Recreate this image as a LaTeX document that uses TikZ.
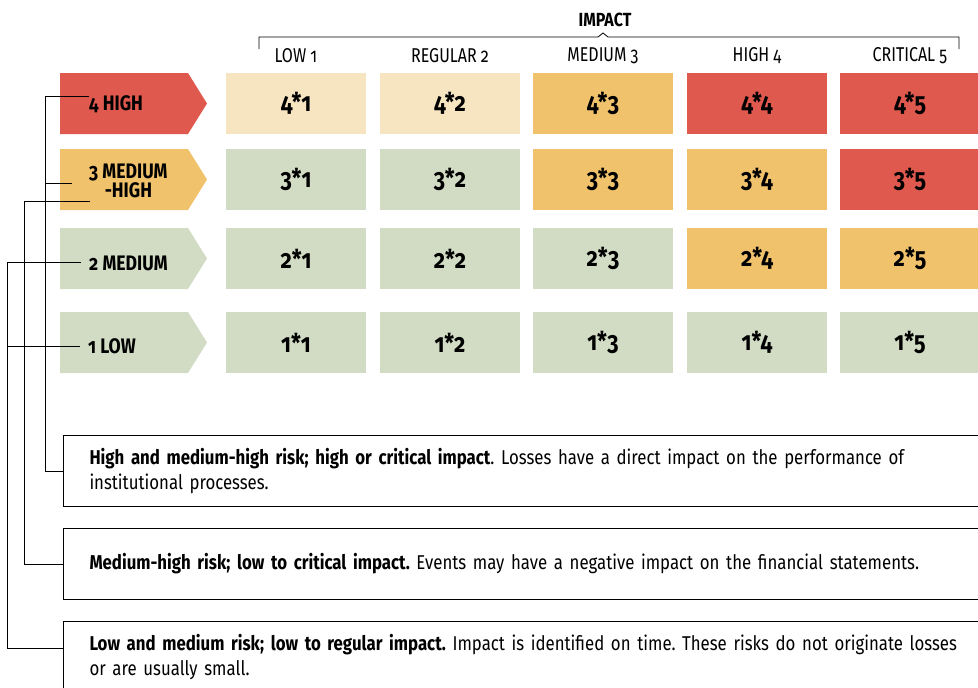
\documentclass[tikz,border=0pt]{standalone}
\usepackage{fontspec}
\setmainfont{Fira Sans}[Numbers=OldStyle, FakeStretch=0.84]
\newfontfamily\headfont{Fira Sans}[Numbers=OldStyle, FakeStretch=0.8]
\usetikzlibrary{calc}
\frenchspacing

\definecolor{riskred}{HTML}{E0594F}
\definecolor{riskorange}{HTML}{F0C26C}
\definecolor{riskbeige}{HTML}{F7E5C1}
\definecolor{riskgreen}{HTML}{D2DCC4}

\tikzset{
  cell/.style={minimum width=140pt, minimum height=61pt, inner sep=0pt,
    font=\fontsize{26}{28}\selectfont\bfseries},
  colhead/.style={inner sep=0pt, font=\headfont\fontsize{20}{22}\selectfont},
  lvl/.style={inner sep=0pt, anchor=west, font=\fontsize{21}{21}\selectfont\bfseries},
  infobox/.style={draw, line width=1pt, anchor=north west, minimum width=940pt,
    minimum height=71pt, inner xsep=26pt, inner ysep=0pt, align=left,
    text width=890pt, font=\fontsize{20}{25}\selectfont},
  link/.style={line width=1pt}
}

\begin{document}
\begin{tikzpicture}[x=1pt, y=-1pt]
  \useasboundingbox (0,0) rectangle (978,688);
  \clip (0,0) rectangle (978,688);

  % impact header
  \node[inner sep=0pt, font=\fontsize{19}{22}\selectfont\bfseries] (impact) at (605,20) {IMPACT};
  \draw[line width=0.8pt] (259,49) -- (259,37) -- (598,37) -- (603,33) -- (608,37) -- (959,37) -- (959,49);
  \node[colhead] (h1) at (296,56) {LOW 1};
  \node[colhead] (h2) at (450,56) {REGULAR 2};
  \node[colhead] (h3) at (603,56) {MEDIUM 3};
  \node[colhead] (h4) at (757,56) {HIGH 4};
  \node[colhead] (h5) at (910,56) {CRITICAL 5};

  % risk levels
  \fill[riskred] (60,73) -- (188,73) -- (207,103.5) -- (188,134) -- (60,134) -- cycle;
  \fill[riskorange] (60,149) -- (188,149) -- (207,179.5) -- (188,210) -- (60,210) -- cycle;
  \fill[riskgreen] (60,228) -- (188,228) -- (207,258.5) -- (188,289) -- (60,289) -- cycle;
  \fill[riskgreen] (60,312) -- (188,312) -- (207,342.5) -- (188,373) -- (60,373) -- cycle;
  \node[lvl] (l4) at (89,104) {4 HIGH};
  \node[lvl, align=center] (l3) at (89,181) {3 MEDIUM\\[-2pt]-HIGH};
  \node[lvl] (l2) at (89,263) {2 MEDIUM};
  \node[lvl] (l1) at (88,346) {1 LOW};

  % matrix
  \node[cell, fill=riskbeige] (c41) at (296,103.5) {4*1};
  \node[cell, fill=riskbeige] (c42) at (450,103.5) {4*2};
  \node[cell, fill=riskorange] (c43) at (603,103.5) {4*3};
  \node[cell, fill=riskred] (c44) at (757,103.5) {4*4};
  \node[cell, fill=riskred] (c45) at (910,103.5) {4*5};

  \node[cell, fill=riskgreen] (c31) at (296,179.5) {3*1};
  \node[cell, fill=riskgreen] (c32) at (450,179.5) {3*2};
  \node[cell, fill=riskorange] (c33) at (603,179.5) {3*3};
  \node[cell, fill=riskorange] (c34) at (757,179.5) {3*4};
  \node[cell, fill=riskred] (c35) at (910,179.5) {3*5};

  \node[cell, fill=riskgreen] (c21) at (296,258.5) {2*1};
  \node[cell, fill=riskgreen] (c22) at (450,258.5) {2*2};
  \node[cell, fill=riskgreen] (c23) at (603,258.5) {2*3};
  \node[cell, fill=riskorange] (c24) at (757,258.5) {2*4};
  \node[cell, fill=riskorange] (c25) at (910,258.5) {2*5};

  \node[cell, fill=riskgreen] (c11) at (296,342.5) {1*1};
  \node[cell, fill=riskgreen] (c12) at (450,342.5) {1*2};
  \node[cell, fill=riskgreen] (c13) at (603,342.5) {1*3};
  \node[cell, fill=riskgreen] (c14) at (757,342.5) {1*4};
  \node[cell, fill=riskgreen] (c15) at (910,342.5) {1*5};

  % explanations
  \node[infobox] (box1) at (63,435) {\textbf{High and medium-high risk; high or critical impact}. Losses have a direct impact on the performance of\\institutional processes.};
  \node[infobox] (box2) at (63,528) {\textbf{Medium-high risk; low to critical impact.} Events may have a negative impact on the financial statements.};
  \node[infobox] (box3) at (63,621) {\textbf{Low and medium risk; low to regular impact.} Impact is identified on time. These risks do not originate losses\\or are usually small.};

  % connectors
  \coordinate (e4) at (89,96);
  \coordinate (e3a) at (72,183);
  \coordinate (e3b) at (90,201);
  \coordinate (e2) at (81,262);
  \coordinate (e1) at (80,346);
  \coordinate (b3) at (63,648);
  \draw[link] (e4) -- (45,96) |- (box1.west);
  \draw[link] (e3a) -- (45,183);
  \draw[link] (e3b) -- (24,201) |- (box2.west);
  \draw[link] (e2) -- (7,262) |- (b3);
  \draw[link] (e1) -- (7,346);
\end{tikzpicture}
\end{document}
